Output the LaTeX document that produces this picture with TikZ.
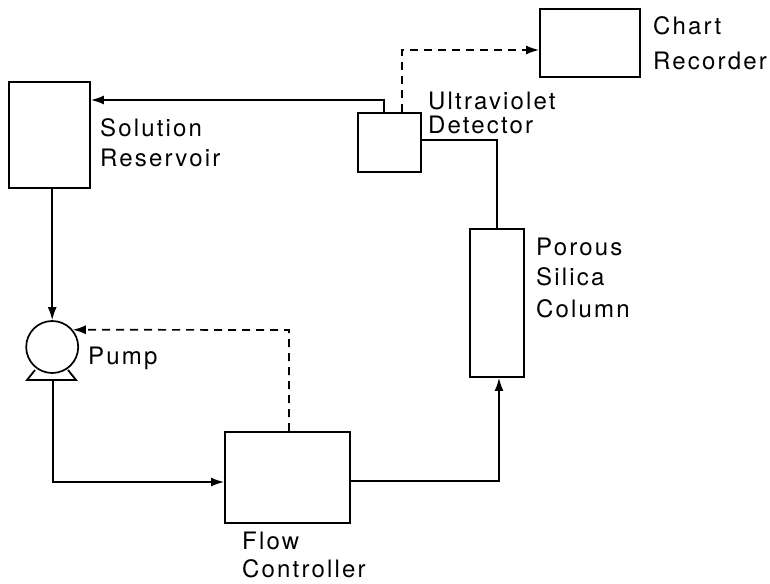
\documentclass[tikz,border=0pt]{standalone}
\usepackage{fontspec}
\setmainfont[LetterSpace=9]{TeX Gyre Heros}
\usetikzlibrary{arrows.meta, positioning, shapes}
\tikzstyle{box} = [rectangle, draw, line width=1.8pt, inner sep=0pt]
\tikzstyle{lbl} = [align=left, anchor=north west, inner sep=0pt, font=\fontsize{24}{27}\selectfont]
\tikzstyle{arrow} = [line width=1.7pt,->,>={Latex[length=13pt,width=9pt]}]
\tikzstyle{signal} = [arrow, dash pattern=on 8pt off 6pt]
\begin{document}
\begin{tikzpicture}[x=1pt, y=-1pt]
\useasboundingbox (0,0) rectangle (770,583);

\node(Res)[box, minimum width=81pt, minimum height=106pt] at (49.5,135) {};
\node(Det)[box, minimum width=63pt, minimum height=59pt] at (389.5,142.5) {};
\node(Chart)[box, minimum width=100pt, minimum height=68pt] at (590,43) {};
\node(Col)[box, minimum width=54pt, minimum height=148pt] at (497,303) {};
\node(Flow)[box, minimum width=125pt, minimum height=91pt] at (287.5,477.5) {};
\node(Pump)[circle, draw, line width=1.7pt, minimum size=52pt, inner sep=0pt] at (52.2,347) {};

\node(ResT)[lbl] at (100,118) {Solution\\[3pt]Reservoir};
\node(DetT)[lbl] at (428,92) {Ultraviolet\\[-3pt]Detector};
\node(ChartT)[lbl] at (653,16) {Chart\\[8pt]Recorder};
\node(ColT)[lbl] at (536,238) {Porous\\[3pt]Silica\\[5pt]Column};
\node(PumpT)[lbl] at (88,347) {Pump};
\node(FlowT)[lbl] at (242,532) {Flow\\[1pt]Controller};

% pump foot
\coordinate (FootL) at (27,380);
\coordinate (FootR) at (76,380);
\draw[line width=1.8pt] (35,370) -- (FootL) -- (FootR) -- (68,370);

% flow circuit
\coordinate (B1) at (384,100);
\coordinate (B2) at (497,140);
\coordinate (B3) at (53,482);
\coordinate (B4) at (499,481);
\draw [arrow] (Det.north -| B1) -- (B1) -- (B1 -| Res.east);
\draw [arrow] (Res.south -| Pump) -- (Pump);
\draw [line width=2pt] (B2 -| Det.east) -- (B2) -- (B2 |- Col.north);
\draw [arrow] (B3 |- FootL) -- (B3) -- (B3 -| Flow.west);
\draw [arrow] (B4 -| Flow.east) -- (B4) -- (B4 |- Col.south);

% signal lines
\coordinate (S1) at (402,50);
\coordinate (S2) at (289,330);
\draw [signal] (Det.north -| S1) -- (S1) -- (S1 -| Chart.west);
\draw [signal] (S2 |- Flow.north) -- (S2) -- (Pump.40);
\end{tikzpicture}
\end{document}
